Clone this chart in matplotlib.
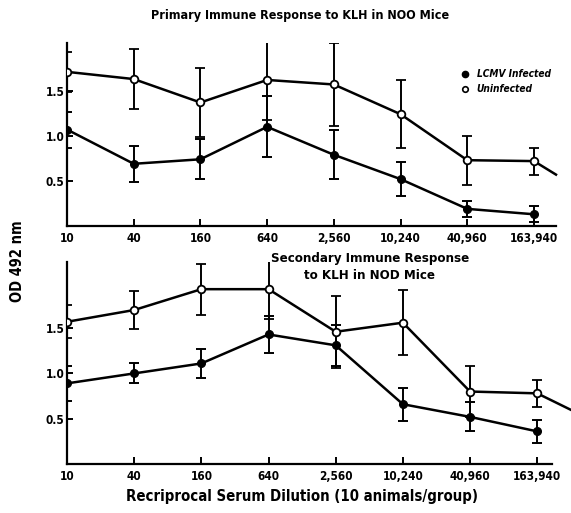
import numpy as np
import matplotlib
matplotlib.use('Agg')
import matplotlib.pyplot as plt

# dilution tick labels
dilutions = ['10', '40', '160', '640', '2,560', '10,240', '40,960', '163,940']

# primary response (OD 492 nm) with error bar half-widths
prim_uninf = [1.71, 1.63, 1.37, 1.62, 1.57, 1.24, 0.73, 0.72]
prim_uninf_err = [0.22, 0.33, 0.38, 0.44, 0.46, 0.38, 0.27, 0.15]
prim_inf = [1.07, 0.69, 0.74, 1.10, 0.79, 0.52, 0.19, 0.13]
prim_inf_err = [0.20, 0.20, 0.22, 0.34, 0.27, 0.19, 0.09, 0.09]
prim_tail = (7.33, 0.57)

# secondary response
sec_uninf = [1.57, 1.70, 1.93, 1.93, 1.46, 1.56, 0.80, 0.78]
sec_uninf_err = [0.18, 0.21, 0.28, 0.33, 0.40, 0.36, 0.28, 0.15]
sec_inf = [0.89, 1.00, 1.11, 1.43, 1.31, 0.66, 0.52, 0.36]
sec_inf_err = [0.19, 0.11, 0.16, 0.20, 0.23, 0.18, 0.16, 0.13]
sec_tail = (7.55, 0.58)

plt.rcParams['font.family'] = ['DejaVu Sans']
plt.rcParams['font.stretch'] = 'condensed'
plt.rcParams['font.weight'] = 'bold'

fig = plt.figure(figsize=(5.71, 5.13), dpi=100)
W, H = 571., 513.
ax1 = fig.add_axes([67/W, 1-226/H, (556-67)/W, (226-43)/H])
ax2 = fig.add_axes([67/W, 1-464/H, (552-67)/W, (464-262)/H])

x = np.arange(len(dilutions))

def panel(ax, uninf, uninf_err, inf, inf_err, tail, ytop, xright):
    ax.errorbar(x, uninf, yerr=uninf_err, color='black', lw=1.8, elinewidth=1.4,
                capsize=3.5, capthick=1.4, marker='o', ms=5.5, mfc='white',
                mec='black', mew=1.3, zorder=3)
    ax.plot([x[-1], tail[0]], [uninf[-1], tail[1]], color='black', lw=1.8,
            clip_on=False)
    ax.errorbar(x, inf, yerr=inf_err, color='black', lw=1.8, elinewidth=1.4,
                capsize=3.5, capthick=1.4, marker='o', ms=5.5, mfc='black',
                mec='black', zorder=3)
    ax.set_xlim(0, xright)
    ax.set_ylim(0, ytop)
    ax.set_xticks(x)
    ax.set_xticklabels(dilutions, fontsize=8.5, fontweight='bold')
    ax.set_yticks([0.5, 1.0, 1.5])
    ax.set_yticklabels(['0.5', '1.0', '1.5'], fontsize=8.5, fontweight='bold')
    ax.tick_params(axis='x', direction='in', length=5, width=1.4, pad=4)
    ax.tick_params(axis='y', direction='in', length=4, width=1.4, pad=2)
    for s in ['top', 'right']:
        ax.spines[s].set_visible(False)
    for s in ['left', 'bottom']:
        ax.spines[s].set_linewidth(1.6)

panel(ax1, prim_uninf, prim_uninf_err, prim_inf, prim_inf_err, prim_tail, 2.03, 7.33)
panel(ax2, sec_uninf, sec_uninf_err, sec_inf, sec_inf_err, sec_tail, 2.23, 7.22)

fig.text(300/W, 1-16/H, 'Primary Immune Response to KLH in NOO Mice',
         ha='center', va='center', fontsize=9, fontweight='bold')
fig.text(370/W, 1-267/H, 'Secondary Immune Response\nto KLH in NOD Mice',
         ha='center', va='center', fontsize=9.5, fontweight='bold', linespacing=1.45)
fig.text(18/W, 1-261/H, 'OD 492 nm', rotation=90, ha='center', va='center',
         fontsize=10.5, fontweight='bold')
fig.text(302/W, 1-497/H, 'Recriprocal Serum Dilution (10 animals/group)',
         ha='center', va='center', fontsize=10.7, fontweight='bold')

# legend
ax1.plot([0.814], [0.831], 'o', color='black', ms=4.5, transform=ax1.transAxes, clip_on=False)
ax1.plot([0.814], [0.749], 'o', mfc='white', mec='black', mew=1.2, ms=4,
         transform=ax1.transAxes, clip_on=False)
ax1.text(0.838, 0.831, 'LCMV Infected', transform=ax1.transAxes, fontsize=7.3,
         fontstyle='italic', fontweight='bold', va='center')
ax1.text(0.838, 0.749, 'Uninfected', transform=ax1.transAxes, fontsize=7.3,
         fontstyle='italic', fontweight='bold', va='center')

fig.savefig('out.png', dpi=100)
